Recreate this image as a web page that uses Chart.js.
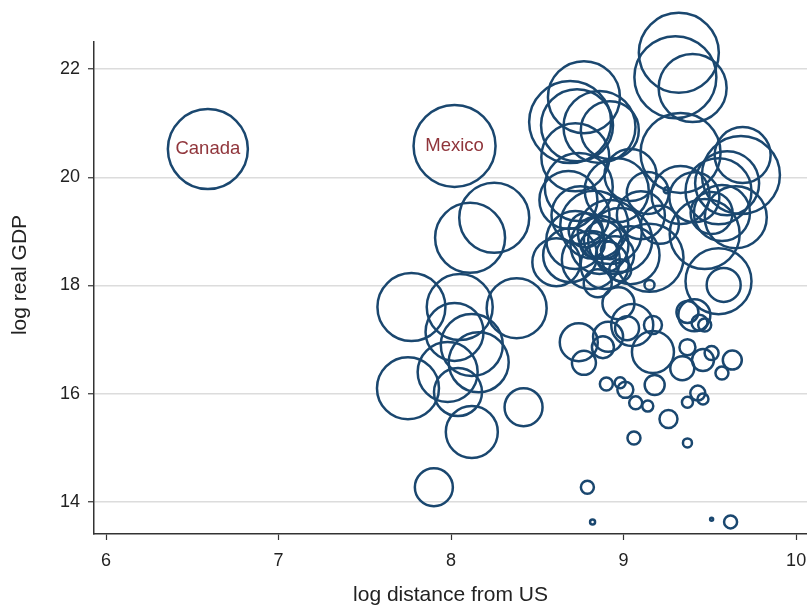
<!DOCTYPE html>
<html lang="en">
<head>
<meta charset="UTF-8" />
<title>log real GDP vs log distance from US</title>
<script src="https://cdn.jsdelivr.net/npm/chart.js"></script>
<style>
  body { margin: 0; background: #fff; }
  #wrap { width: 807px; height: 606px; position: relative; }
</style>
</head>
<body>
<div id="wrap"><canvas id="grafica"></canvas></div>
<script>
// one entry per country: log distance from US, log real GDP, bubble size (population weight)
const logDist = [
  6.59, 8.02, 8.25, 8.11, 7.77, 8.05, 8.38, 8.02, 8.12, 8.16,
  7.98, 7.75, 8.04, 8.12, 8.42, 7.90, 8.77, 8.69, 8.73, 8.86,
  8.92, 8.72, 8.74, 8.68, 8.96, 9.14, 9.25, 9.04, 9.10, 9.21,
  8.75, 8.72, 8.83, 8.92, 8.86, 8.98, 9.04, 8.81, 8.69, 8.61,
  8.89, 8.95, 8.85, 8.98, 8.82, 8.92, 9.15, 8.78, 8.88, 9.41,
  9.55, 9.51, 9.57, 9.65, 9.47, 9.33, 9.32, 9.30, 9.40, 9.33,
  9.69, 9.68, 9.60, 9.55, 9.58, 9.15, 8.97, 8.74, 8.77, 8.88,
  8.91, 9.05, 9.02, 9.17, 9.17, 9.37, 9.34, 9.46, 9.51, 9.63,
  9.57, 8.90, 8.98, 9.01, 9.07, 9.14, 9.18, 9.26, 9.37, 9.43,
  9.46, 9.37, 9.41, 9.44, 9.47, 9.06, 9.37, 8.79, 8.82, 9.51,
  9.62
];
const logGdp = [
  20.52, 20.58, 19.25, 18.88, 17.60, 17.60, 17.58, 17.14, 16.90, 16.58,
  16.40, 16.10, 16.03, 15.29, 15.75, 14.27, 21.48, 21.02, 20.96, 20.93,
  20.87, 20.37, 19.82, 19.58, 19.76, 19.71, 19.76, 20.04, 19.30, 19.12,
  19.30, 18.84, 19.12, 18.99, 18.75, 18.84, 18.56, 18.47, 18.56, 18.43,
  18.38, 18.56, 18.04, 18.28, 18.75, 18.65, 18.51, 19.02, 18.84, 19.63,
  19.74, 19.34, 19.34, 19.26, 18.95, 19.67, 22.30, 21.85, 21.65, 20.45,
  20.41, 20.04, 19.89, 18.08, 18.01, 18.01, 17.67, 16.95, 16.57, 16.86,
  17.05, 17.27, 17.21, 17.27, 16.77, 16.86, 16.47, 16.62, 16.75, 16.62,
  16.38, 16.18, 16.20, 16.07, 15.83, 15.77, 16.16, 15.53, 15.84, 16.01,
  15.90, 17.51, 17.45, 17.31, 17.27, 15.18, 15.09, 14.27, 13.63, 13.68,
  13.63
];
const bubbleSize = [
  40, 41, 35, 35, 34, 33, 30, 29, 31, 30,
  30, 31, 24, 26, 19, 19, 36, 41, 36, 36,
  29, 34, 34, 29, 32, 21, 3, 26, 24, 19,
  29, 29, 34, 32, 29, 32, 29, 29, 27, 24,
  24, 19, 14, 11, 12, 9, 34, 17, 19, 25,
  33, 21, 28, 31, 35, 29, 40, 41, 34, 40,
  28, 39, 32, 33, 17, 5, 16, 19, 12, 11,
  15, 21, 12, 9, 21, 8, 12, 11, 7, 9.5,
  6.5, 6.5, 5.5, 8, 6.5, 5.5, 10, 9, 5.5, 7.5,
  5.5, 11, 16, 8, 6.5, 6.5, 4.5, 6.5, 2.5, 1.5,
  6.5
];
const countryLabel = { 0: 'Canada', 1: 'Mexico' };

const xTicks = [6, 7, 8, 9, 10];
const yTicks = [14, 16, 18, 20, 22];

const navy = '#1a476f';
const maroon = '#90353b';
const fontFam = '"Liberation Sans", Arial, Helvetica, sans-serif';

const points = logDist.map((d, i) => ({ x: d, y: logGdp[i], r: bubbleSize[i] }));

// country names inside their bubbles + the y title (Stata centres it a bit higher)
const labelPlugin = {
  id: 'countryLabels',
  afterDatasetsDraw(chart) {
    const ctx = chart.ctx;
    const xs = chart.scales.x, ys = chart.scales.y;
    ctx.save();
    ctx.fillStyle = maroon;
    ctx.font = '18.5px ' + fontFam;
    ctx.textAlign = 'center';
    ctx.textBaseline = 'middle';
    for (const i in countryLabel) {
      ctx.fillText(countryLabel[i], xs.getPixelForValue(logDist[i]), ys.getPixelForValue(logGdp[i]));
    }
    ctx.translate(20, 275);
    ctx.rotate(-Math.PI / 2);
    ctx.fillStyle = '#222';
    ctx.font = '21px ' + fontFam;
    ctx.fillText('log real GDP', 0, 0);
    ctx.restore();
  }
};

new Chart(document.getElementById('grafica'), {
  type: 'bubble',
  data: {
    datasets: [{
      data: points,
      backgroundColor: 'rgba(0,0,0,0)',
      borderColor: navy,
      borderWidth: 2.5,
      clip: false
    }]
  },
  options: {
    responsive: true,
    maintainAspectRatio: false,
    animation: false,
    events: [],
    layout: { autoPadding: false, padding: { top: 42, left: 0, right: 0, bottom: 0 } },
    plugins: { legend: { display: false }, tooltip: { enabled: false } },
    scales: {
      x: {
        type: 'linear',
        min: 5.93,
        max: 10.063,
        afterBuildTicks: s => { s.ticks = xTicks.map(v => ({ value: v })); },
        afterFit: s => { s.height = 72; s.paddingLeft = 0; s.paddingRight = 0; },
        grid: { drawOnChartArea: false, drawTicks: true, tickLength: 6, tickColor: '#333', tickWidth: 1.2 },
        border: { color: '#333', width: 1.5 },
        ticks: { color: '#222', font: { family: fontFam, size: 18 }, padding: 10, maxRotation: 0 },
        title: {
          display: true, text: 'log distance from US', color: '#222',
          font: { family: fontFam, size: 21, lineHeight: 1 }, padding: { top: 0, bottom: 0 }
        }
      },
      y: {
        type: 'linear',
        min: 13.406,
        max: 22.5,
        afterBuildTicks: s => { s.ticks = yTicks.map(v => ({ value: v })); },
        afterFit: s => { s.width = 94; s.paddingTop = 0; s.paddingBottom = 0; },
        grid: { color: '#dcdcdc', lineWidth: 1.5, drawTicks: true, tickLength: 6, tickColor: '#333', tickWidth: 1.2 },
        border: { color: '#333', width: 1.5 },
        ticks: { color: '#222', font: { family: fontFam, size: 18 }, padding: 8 },
        title: { display: false }
      }
    }
  },
  plugins: [labelPlugin]
});
</script>
</body>
</html>
